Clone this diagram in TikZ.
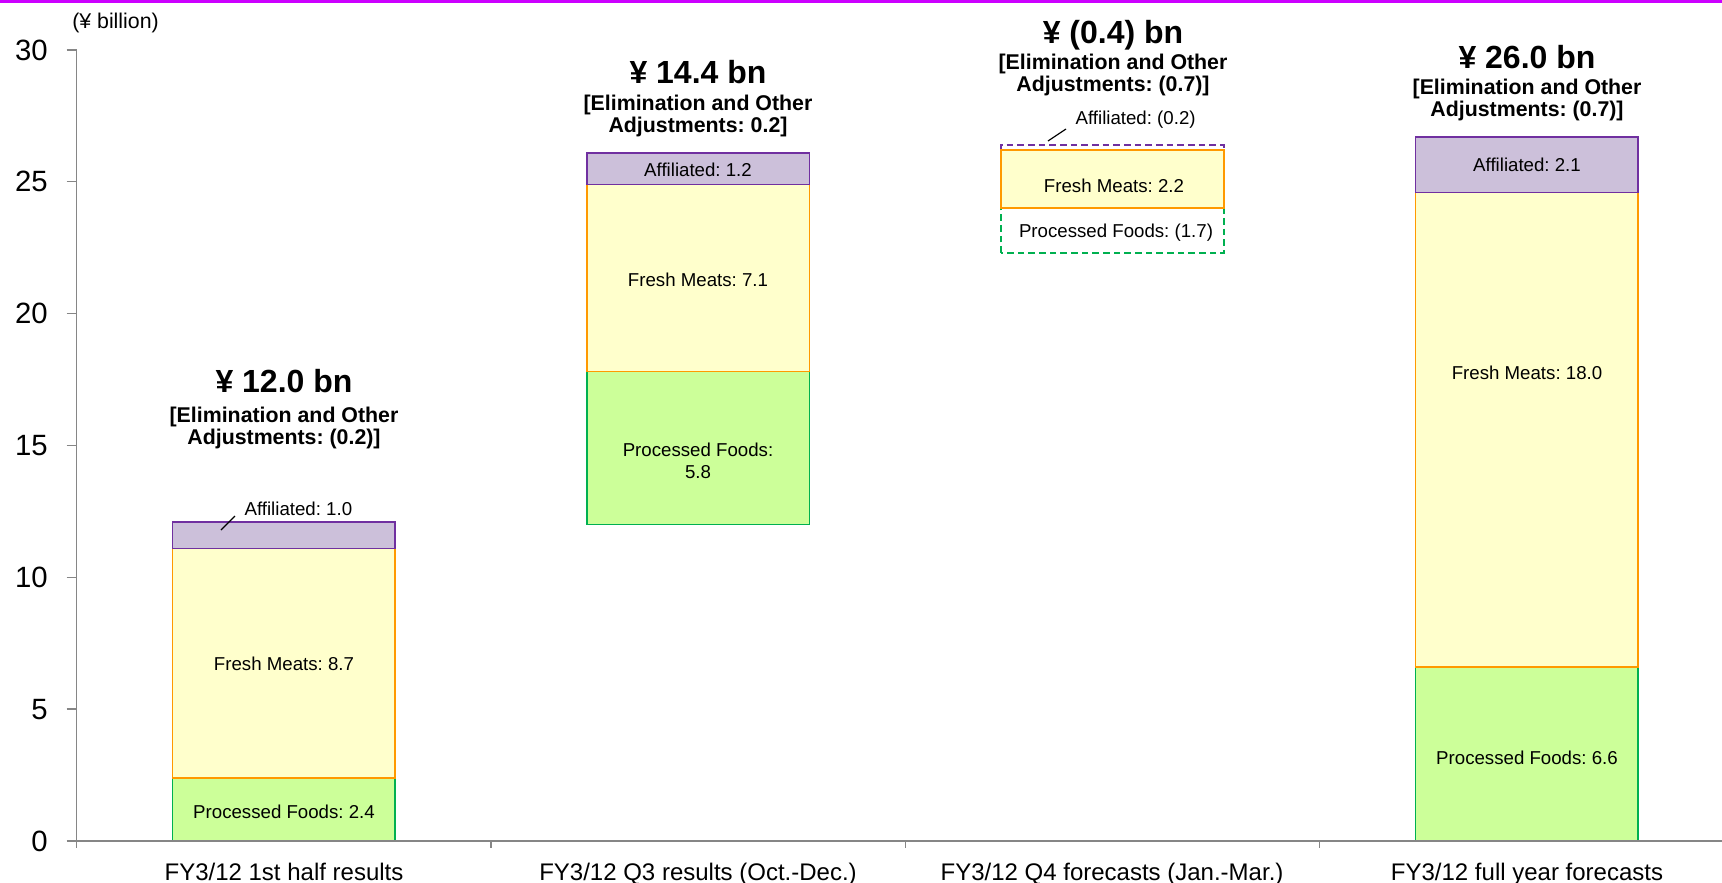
\documentclass[tikz,border=0pt]{standalone}
\usepackage{fontspec}
\setmainfont{Liberation Sans}
\usetikzlibrary{positioning}
\frenchspacing

\definecolor{affline}{HTML}{7030A0}
\definecolor{afffill}{HTML}{CCC0DA}
\definecolor{meatline}{HTML}{FF9900}
\definecolor{meatfill}{HTML}{FFFFCC}
\definecolor{foodline}{HTML}{00B050}
\definecolor{foodfill}{HTML}{CCFF99}
\definecolor{axisgray}{HTML}{868686}
\definecolor{topbar}{HTML}{CC00FF}

\begin{document}
\begin{tikzpicture}[x=0.75pt,y=-0.75pt,
  seglabel/.style={font=\fontsize{14}{16.5}\selectfont,inner sep=0,text height=10pt,text depth=0pt},
  seglabelwrap/.style={font=\fontsize{14}{16.5}\selectfont,inner sep=0,align=center},
  ticklabel/.style={font=\fontsize{22}{24}\selectfont,anchor=east,inner sep=0},
  catlabel/.style={font=\fontsize{18}{20}\selectfont,anchor=base,inner sep=0},
  totallabel/.style={font=\bfseries\fontsize{24}{28}\selectfont,inner sep=0,text height=17.2pt,text depth=0pt},
  adjlabel/.style={font=\bfseries\fontsize{16}{16.5}\selectfont,align=center,inner sep=0},
  calloutlabel/.style={font=\fontsize{14}{16.5}\selectfont,anchor=south west,inner xsep=7pt,inner ysep=0},
  axisline/.style={draw=axisgray,line width=1.1pt},
  affbox/.style={draw=affline,fill=afffill,line width=1.2pt},
  meatbox/.style={draw=meatline,fill=meatfill,line width=1.2pt},
  foodbox/.style={draw=foodline,fill=foodfill,line width=1.2pt},
  lessbox/.style={line width=1.2pt,dash pattern=on 5pt off 3pt},
  leader/.style={draw=black,line width=0.9pt}]

\useasboundingbox (0,0) rectangle (1722,882);
\fill[topbar] (0,0) rectangle (1722,3);

% bars, y in billion yen
\begin{scope}[shift={(0,841)},y=19.7775pt]
  % 1st half
  \draw[foodbox] (172.5,0) rectangle (395.2,2.4);
  \draw[meatbox] (172.5,2.4) rectangle (395.2,11.1);
  \draw[affbox]  (172.5,11.1) rectangle (395.2,12.1);
  % Q3
  \draw[foodbox] (586.8,12.0) rectangle (809.5,17.8);
  \draw[meatbox] (586.8,17.8) rectangle (809.5,24.9);
  \draw[affbox]  (586.8,24.9) rectangle (809.5,26.1);
  % Q4 (negative parts dashed)
  \draw[lessbox,draw=foodline] (1001.1,22.3) rectangle (1223.8,24.0);
  \draw[lessbox,draw=affline]  (1001.1,26.2) rectangle (1223.8,26.4);
  \draw[meatbox] (1001.1,24.0) rectangle (1223.8,26.2);
  % full year
  \draw[foodbox] (1415.4,0) rectangle (1638.1,6.6);
  \draw[meatbox] (1415.4,6.6) rectangle (1638.1,24.6);
  \draw[affbox]  (1415.4,24.6) rectangle (1638.1,26.7);

  % value axis
  \draw[axisline] (76.7,0) -- (76.7,30);
  \foreach \v in {0,5,...,30} {
    \draw[axisline] (66.7,\v) -- (76.7,\v);
    \node[ticklabel] (tick\v) at (48,\v) {\v};
  }
\end{scope}

% category axis
\draw[axisline] (76.7,841) -- (1722,841);
\foreach \k in {0,...,3}
  \draw[axisline] (76.7+414.3*\k,841) -- ++(0,7);

\node[font=\fontsize{16}{18}\selectfont,anchor=west,inner sep=0] (unit) at (72,23) {(¥ billion)};

% 1st half labels
\node[totallabel] (total1) at (284,381) {¥ 12.0 bn};
\node[adjlabel] (adj1) at (284,427.5) {[Elimination and Other\\Adjustments: (0.2)]};
\coordinate (aff1pt) at (221,530);
\node[calloutlabel] (aff1) at (235,516) {Affiliated: 1.0};
\draw[leader] (aff1pt) -- (aff1.south west);
\node[seglabel] (meat1) at (284,664) {Fresh Meats: 8.7};
\node[seglabel] (food1) at (284,812) {Processed Foods: 2.4};

% Q3 labels
\node[totallabel] (total2) at (698,72) {¥ 14.4 bn};
\node[adjlabel] (adj2) at (698,116) {[Elimination and Other\\Adjustments: 0.2]};
\node[seglabel] (aff2) at (698,170) {Affiliated: 1.2};
\node[seglabel] (meat2) at (698,280) {Fresh Meats: 7.1};
\node[seglabelwrap] (food2) at (698,461) {Processed Foods:\\5.8};

% Q4 labels
\node[totallabel] (total3) at (1113,32) {¥ (0.4) bn};
\node[adjlabel] (adj3) at (1113,75) {[Elimination and Other\\Adjustments: (0.7)]};
\coordinate (aff3pt) at (1048,141);
\node[calloutlabel] (aff3) at (1066,129) {Affiliated: (0.2)};
\draw[leader] (aff3pt) -- (aff3.south west);
\node[seglabel] (meat3) at (1114,186) {Fresh Meats: 2.2};
\node[seglabel] (food3) at (1116,231) {Processed Foods: (1.7)};

% full year labels
\node[totallabel] (total4) at (1527,57) {¥ 26.0 bn};
\node[adjlabel] (adj4) at (1527,100) {[Elimination and Other\\Adjustments: (0.7)]};
\node[seglabel] (aff4) at (1527,165) {Affiliated: 2.1};
\node[seglabel] (meat4) at (1527,373) {Fresh Meats: 18.0};
\node[seglabel] (food4) at (1527,758) {Processed Foods: 6.6};

% category names
\node[catlabel] (cat1) at (284,880) {FY3/12 1st half results};
\node[catlabel] (cat2) at (698,880) {FY3/12 Q3 results (Oct.-Dec.)};
\node[catlabel] (cat3) at (1112,880) {FY3/12 Q4 forecasts (Jan.-Mar.)};
\node[catlabel] (cat4) at (1527,880) {FY3/12 full year forecasts};
\end{tikzpicture}
\end{document}
